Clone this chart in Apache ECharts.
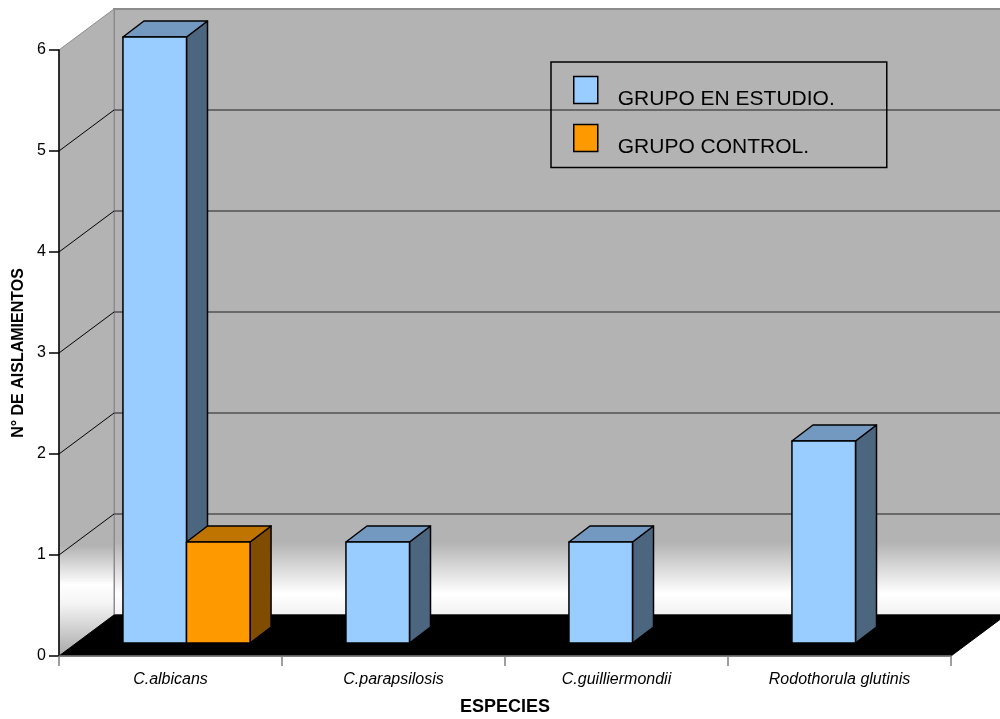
<!DOCTYPE html>
<html>
<head>
<meta charset="utf-8">
<script src="https://cdn.jsdelivr.net/npm/echarts@6/dist/echarts.min.js"></script>
<style>
  html, body { margin: 0; padding: 0; background: #ffffff; }
  #chart { width: 1000px; height: 719px; }
</style>
</head>
<body>
<div id="chart"></div>
<script>
// Species and counts of isolates per group
const categories = ['C.albicans', 'C.parapsilosis', 'C.guilliermondii', 'Rodothorula glutinis'];
const grupoEstudio = [6, 1, 1, 2];
const grupoControl = [1, 0, 0, 0];
const yTicks = [0, 1, 2, 3, 4, 5, 6];

const FONT = '"Liberation Sans", Arial, Helvetica, sans-serif';

// 3D box geometry (pixels): depth of walls/floor, and the slab occupied by the bars
const WALL_DX = 55, WALL_DY = -41;
const BAR_OFF_X = 16, BAR_OFF_Y = -13;
const BAR_DX = 21, BAR_DY = -16;
const BAR_RATIO = 0.285;

const chart = echarts.init(document.getElementById('chart'), null, { renderer: 'canvas' });

// Back wall, side wall, floor and their gridlines, positioned from the axis scales
function renderWalls(params, api) {
  const band = api.size([1, 0])[0];
  const first = api.coord([0, 0]);
  const last = api.coord([categories.length - 1, 0]);
  const x0 = first[0] - band / 2;
  const x1 = last[0] + band / 2;
  const yBase = first[1];
  const yTop = api.coord([0, yTicks[yTicks.length - 1]])[1];
  const bx0 = x0 + WALL_DX, bx1 = x1 + WALL_DX;

  const backGrad = new echarts.graphic.LinearGradient(0, yTop + WALL_DY, 0, yBase + WALL_DY, [
    { offset: 0, color: '#b3b3b3' },
    { offset: 0.88, color: '#b3b3b3' },
    { offset: 0.965, color: '#ffffff' },
    { offset: 1, color: '#f2f2f2' }
  ], true);
  const sideGrad = new echarts.graphic.LinearGradient(0, yTop + WALL_DY, 0, yBase, [
    { offset: 0, color: '#b3b3b3' },
    { offset: 0.83, color: '#b3b3b3' },
    { offset: 0.89, color: '#ffffff' },
    { offset: 0.92, color: '#f4f4f4' },
    { offset: 1, color: '#a8a8a8' }
  ], true);

  const children = [];
  // back wall
  children.push({
    type: 'rect',
    shape: { x: bx0, y: yTop + WALL_DY, width: bx1 - bx0, height: yBase - yTop },
    style: { fill: backGrad, stroke: '#8c8c8c', lineWidth: 2 }
  });
  // side wall
  children.push({
    type: 'polygon',
    shape: { points: [[x0, yBase], [x0, yTop], [bx0, yTop + WALL_DY], [bx0, yBase + WALL_DY]] },
    style: { fill: sideGrad, stroke: '#8c8c8c', lineWidth: 1 }
  });
  // gridlines on back wall and side wall
  yTicks.forEach(function (t) {
    if (t === 0 || t === yTicks[yTicks.length - 1]) return;
    const y = api.coord([0, t])[1];
    children.push({
      type: 'line',
      shape: { x1: bx0, y1: y + WALL_DY, x2: bx1, y2: y + WALL_DY },
      style: { stroke: '#505050', lineWidth: 1.5 }
    });
    children.push({
      type: 'line',
      shape: { x1: x0, y1: y, x2: bx0, y2: y + WALL_DY },
      style: { stroke: '#000000', lineWidth: 1 }
    });
  });
  // floor
  children.push({
    type: 'polygon',
    shape: { points: [[x0, yBase], [x1, yBase], [bx1, yBase + WALL_DY], [bx0, yBase + WALL_DY]] },
    style: { fill: '#000000', stroke: '#000000', lineWidth: 1 }
  });
  return { type: 'group', children: children };
}

// A 3D bar: front face, top face and right side face
function barRenderer(slot, colors) {
  return function (params, api) {
    const v = api.value(1);
    if (!v) return null;
    const idx = api.value(0);
    const band = api.size([1, 0])[0];
    const w = band * BAR_RATIO;
    const base = api.coord([idx, 0]);
    const top = api.coord([idx, v]);
    const xl = base[0] + BAR_OFF_X - w + slot * w;
    const xr = xl + w;
    const yb = base[1] + BAR_OFF_Y;
    const yt = top[1] + BAR_OFF_Y;
    const edge = { stroke: '#000000', lineWidth: 1.5, lineJoin: 'round' };
    return {
      type: 'group',
      children: [
        {
          type: 'polygon',
          shape: { points: [[xr, yb], [xr, yt], [xr + BAR_DX, yt + BAR_DY], [xr + BAR_DX, yb + BAR_DY]] },
          style: Object.assign({ fill: colors.side }, edge)
        },
        {
          type: 'polygon',
          shape: { points: [[xl, yt], [xr, yt], [xr + BAR_DX, yt + BAR_DY], [xl + BAR_DX, yt + BAR_DY]] },
          style: Object.assign({ fill: colors.top }, edge)
        },
        {
          type: 'rect',
          shape: { x: xl, y: yt, width: w, height: yb - yt },
          style: Object.assign({ fill: colors.front }, edge)
        }
      ]
    };
  };
}

const option = {
  animation: false,
  backgroundColor: '#ffffff',
  textStyle: { fontFamily: FONT },
  grid: { left: 59, right: 49, top: 50, bottom: 63, containLabel: false, outerBoundsMode: 'none' },
  legend: {
    data: ['GRUPO EN ESTUDIO.', 'GRUPO CONTROL.'],
    orient: 'vertical',
    left: 551,
    top: 62,
    icon: 'rect',
    itemWidth: 24,
    itemHeight: 27,
    itemGap: 8,
    padding: [8, 52, 9.5, 22],
    borderColor: '#000000',
    borderWidth: 1.5,
    selectedMode: false,
    itemStyle: { borderColor: '#000000', borderWidth: 1.5 },
    // an empty first line drops each label slightly below its swatch
    formatter: function (name) { return '\n' + name; },
    textStyle: { fontFamily: FONT, fontSize: 21, lineHeight: 19, color: '#000000', padding: [0, 0, 0, 15] }
  },
  xAxis: {
    type: 'category',
    data: categories,
    z: 10,
    name: 'ESPECIES',
    nameLocation: 'middle',
    nameGap: 42,
    nameTextStyle: { fontFamily: FONT, fontSize: 18, fontWeight: 'bold', color: '#000000' },
    axisLine: { lineStyle: { color: '#808080', width: 1.5 } },
    axisTick: { show: true, length: 10, lineStyle: { color: '#808080', width: 1.5 } },
    axisLabel: { fontFamily: FONT, fontSize: 16, fontStyle: 'italic', color: '#000000', margin: 16 },
    splitLine: { show: false }
  },
  yAxis: {
    type: 'value',
    min: 0,
    max: 6,
    interval: 1,
    z: 10,
    name: 'N° DE AISLAMIENTOS',
    nameLocation: 'middle',
    nameGap: 31,
    nameTextStyle: { fontFamily: FONT, fontSize: 16, fontWeight: 'bold', color: '#000000' },
    axisLine: { show: true, lineStyle: { color: '#000000', width: 1.5 } },
    axisTick: { show: true, length: 10, lineStyle: { color: '#000000', width: 1.5 } },
    axisLabel: { fontFamily: FONT, fontSize: 16, color: '#000000', margin: 13 },
    splitLine: { show: false }
  },
  series: [
    {
      type: 'custom',
      name: 'walls',
      z: 1,
      silent: true,
      clip: false,
      renderItem: renderWalls,
      data: [[0, 0]],
      encode: { x: 0, y: 1 }
    },
    {
      type: 'custom',
      name: 'GRUPO EN ESTUDIO.',
      z: 2,
      clip: false,
      itemStyle: { color: '#99ccff' },
      renderItem: barRenderer(0, { front: '#99ccff', top: '#7399c0', side: '#4d6680' }),
      data: grupoEstudio.map(function (v, i) { return [i, v]; }),
      encode: { x: 0, y: 1 }
    },
    {
      type: 'custom',
      name: 'GRUPO CONTROL.',
      z: 3,
      clip: false,
      itemStyle: { color: '#ff9900' },
      renderItem: barRenderer(1, { front: '#ff9900', top: '#bf7300', side: '#804d00' }),
      data: grupoControl.map(function (v, i) { return [i, v]; }),
      encode: { x: 0, y: 1 }
    }
  ]
};

chart.setOption(option);
</script>
</body>
</html>
